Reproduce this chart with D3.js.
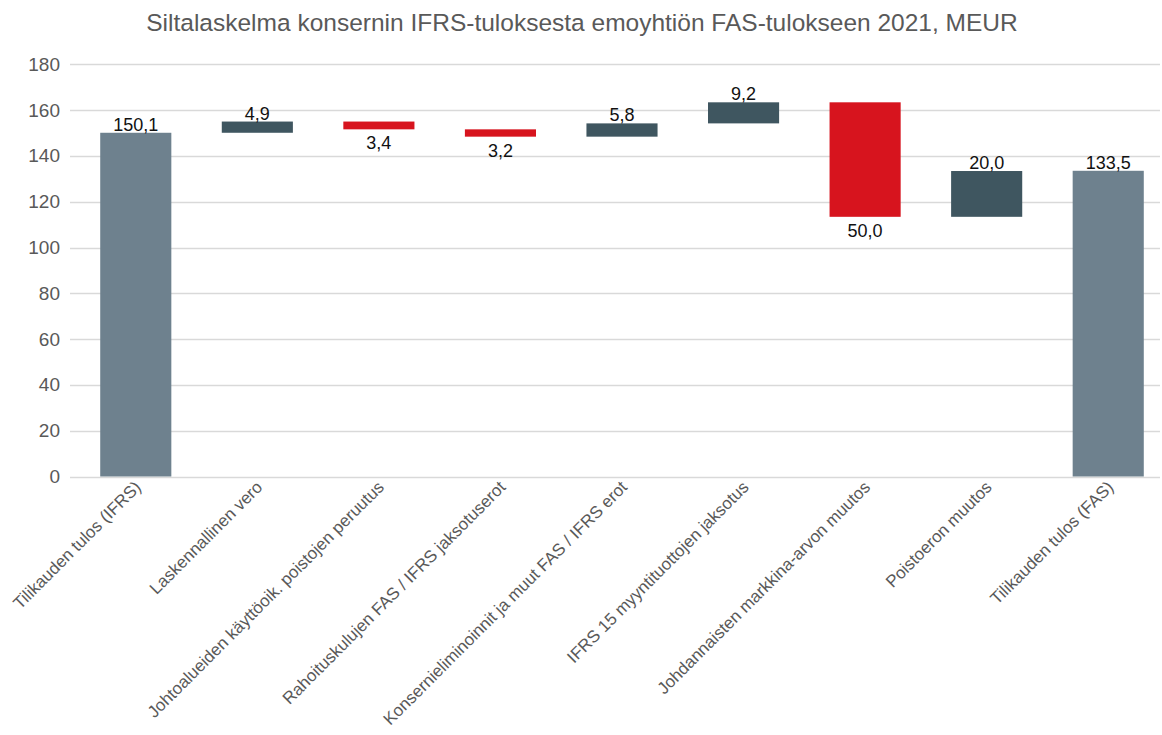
<!DOCTYPE html>
<html>
<head>
<meta charset="utf-8">
<script src="https://cdn.jsdelivr.net/npm/d3@7"></script>
<style>
  body { margin: 0; background: #fff; }
  text { font-family: "Liberation Sans", Arial, sans-serif; }
</style>
</head>
<body>
<svg></svg>
<script>
// data
const categories = [
    "Tilikauden tulos (IFRS)",
    "Laskennallinen vero",
    "Johtoalueiden käyttöoik. poistojen peruutus",
    "Rahoituskulujen FAS / IFRS jaksotuserot",
    "Konsernieliminoinnit ja muut FAS / IFRS erot",
    "IFRS 15 myyntituottojen jaksotus",
    "Johdannaisten markkina-arvon muutos",
    "Poistoeron muutos",
    "Tilikauden tulos (FAS)"
];
const changes = [150.1, 4.9, -3.4, -3.2, 5.8, 9.2, -50.0, 20.0, 133.5];
const kinds = ["total", "step", "step", "step", "step", "step", "step", "step", "total"];
const yTicks = [0, 20, 40, 60, 80, 100, 120, 140, 160, 180];

const W = 1162, H = 735;
const colors = {total: "#6e818e", up: "#3f5660", down: "#d7141e"};

const svg = d3.select('svg')
    .attr('width', W)
    .attr('height', H);

// build waterfall rows
let running = 0;
const rows = categories.map((c, i) => {
    let v = changes[i], start, end;
    if (kinds[i] === "total") {
        start = 0; end = v; running = v;
    } else {
        start = running; end = running + v; running = end;
    }
    return {cat: c, value: v, start: start, end: end, kind: kinds[i]};
});

const scaleX = d3.scaleBand()
    .domain(categories)
    .range([75, 1169])
    .paddingInner(0.415)
    .paddingOuter(0.2075);

const scaleY = d3.scaleLinear()
    .domain([0, 180])
    .range([476.5, 64.3]);

// gridlines
svg.append("g")
    .selectAll("line")
    .data(yTicks)
    .enter()
    .append("line")
        .attr("x1", 70)
        .attr("x2", 1160)
        .attr("y1", d => Math.round(scaleY(d)) + 0.5)
        .attr("y2", d => Math.round(scaleY(d)) + 0.5)
        .attr("stroke", "#d9d9d9")
        .attr("stroke-width", 1.3);

// y axis labels
const yAxis = svg.append("g")
    .attr("transform", `translate(60, 0)`)
    .call(d3.axisLeft(scaleY).tickValues(yTicks).tickSize(0).tickPadding(0));
yAxis.select(".domain").remove();
yAxis.selectAll("text")
    .attr("fill", "#595959")
    .style("font-size", "19px")
    .style("font-family", "Liberation Sans, Arial, sans-serif");

// bars
svg.append("g")
    .selectAll("rect")
    .data(rows)
    .enter()
    .append("rect")
        .attr("x", d => scaleX(d.cat))
        .attr("width", scaleX.bandwidth())
        .attr("y", d => scaleY(Math.max(d.start, d.end)))
        .attr("height", d => Math.abs(scaleY(d.start) - scaleY(d.end)))
        .attr("fill", d => d.kind === "total" ? colors.total : (d.value >= 0 ? colors.up : colors.down));

// value labels
const fmt = v => d3.format(".1f")(Math.abs(v)).replace(".", ",");
svg.append("g")
    .selectAll("text")
    .data(rows)
    .enter()
    .append("text")
        .attr("x", d => scaleX(d.cat) + scaleX.bandwidth() / 2)
        .attr("y", d => {
            if (d.kind === "step" && d.value < 0) return scaleY(Math.min(d.start, d.end)) + 20;
            return scaleY(Math.max(d.start, d.end)) - 2;
        })
        .attr("text-anchor", "middle")
        .attr("fill", "#111")
        .style("font-size", "18px")
        .text(d => fmt(d.value));

// x axis labels
svg.append("g")
    .selectAll("text")
    .data(categories)
    .enter()
    .append("text")
        .attr("transform", d => `translate(${scaleX(d) + scaleX.bandwidth() / 2 + 2}, ${484}) rotate(-45)`)
        .attr("text-anchor", "end")
        .attr("dy", "0.35em")
        .attr("fill", "#595959")
        .style("font-size", "17px")
        .text(d => d);

// title
svg.append("text")
    .attr("x", 582)
    .attr("y", 31)
    .attr("text-anchor", "middle")
    .attr("fill", "#595959")
    .style("font-size", "24.5px")
    .text("Siltalaskelma konsernin IFRS-tuloksesta emoyhtiön FAS-tulokseen 2021, MEUR");
</script>
</body>
</html>
